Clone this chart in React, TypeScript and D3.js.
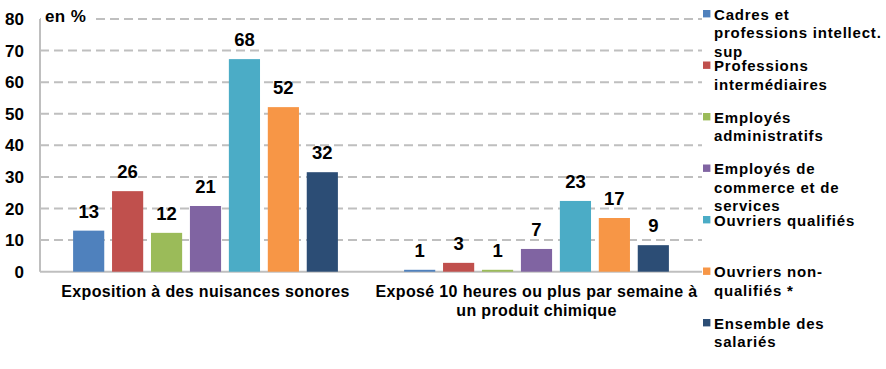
import React from 'react';
import * as d3 from 'd3';

const categories = [
  ['Exposition à des nuisances sonores'],
  ['Exposé 10 heures ou plus par semaine à', 'un produit chimique'],
];
const seriesNames = [
  ['Cadres et', 'professions intellect.', 'sup'],
  ['Professions', 'intermédiaires'],
  ['Employés', 'administratifs'],
  ['Employés de', 'commerce et de', 'services'],
  ['Ouvriers qualifiés'],
  ['Ouvriers non-', 'qualifiés *'],
  ['Ensemble des', 'salariés'],
];
const colors = ['#4F81BD', '#C0504D', '#9BBB59', '#8064A2', '#4BACC6', '#F79646', '#2C4D75'];
// bar heights, labels as printed
const noiseValues = [13, 25.5, 12.3, 20.8, 67.3, 52.1, 31.5];
const noiseLabels = ['13', '26', '12', '21', '68', '52', '32'];
const chemValues = [0.6, 2.8, 0.6, 7.2, 22.4, 17, 8.4];
const chemLabels = ['1', '3', '1', '7', '23', '17', '9'];
const yTicks = [0, 10, 20, 30, 40, 50, 60, 70, 80];

const font = '"Liberation Sans", Arial, sans-serif';

export default function App() {
  const width = 886;
  const height = 369;
  const left = 40;
  const right = 702;
  const top = 19;
  const bottom = 271.7;

  const y = d3.scaleLinear().domain([0, 80]).range([bottom, top]);
  const x0 = d3.scaleBand<number>().domain([0, 1]).range([left, right]);
  const x1 = d3.scaleBand<number>()
    .domain(d3.range(seriesNames.length))
    .range([0, x0.bandwidth()])
    .paddingInner(0.2)
    .paddingOuter(0.85);

  const groups = [
    { values: noiseValues, labels: noiseLabels },
    { values: chemValues, labels: chemLabels },
  ];

  return (
    <svg width={width} height={height} style={{ position: 'absolute', left: 0, top: 0 }} fontFamily={font}>
      {yTicks.filter(t => t > 0).map(t => (
        <line key={t} x1={left} x2={right} y1={y(t)} y2={y(t)} stroke="#BFBFBF" strokeWidth={2} strokeDasharray="9,5" />
      ))}
      <line x1={left} x2={left} y1={top} y2={bottom} stroke="#BFBFBF" strokeWidth={2} />
      <line x1={left} x2={right} y1={bottom} y2={bottom} stroke="#BFBFBF" strokeWidth={2} />
      <rect x={41} y={4} width={53} height={26} fill="#fff" />
      <text x={45} y={22} fontSize={17} fontWeight="bold" letterSpacing={0.4}>en %</text>
      {yTicks.map(t => (
        <text key={t} x={24} y={y(t)} dy="0.36em" textAnchor="end" fontSize={17} fontWeight="bold">{t}</text>
      ))}
      {groups.map((g, gi) => (
        <g key={gi} transform={`translate(${x0(gi)},0)`}>
          {g.values.map((v, i) => (
            <g key={i}>
              <rect x={x1(i)} y={y(v)} width={x1.bandwidth()} height={bottom - y(v)} fill={colors[i]} />
              <text x={(x1(i) as number) + x1.bandwidth() / 2} y={y(v) - 12.7} textAnchor="middle" fontSize={18.5} fontWeight="bold">{g.labels[i]}</text>
            </g>
          ))}
        </g>
      ))}
      {categories.map((lines, ci) => (
        <text key={ci} textAnchor="middle" fontSize={16} fontWeight="bold" letterSpacing={0.35}>
          {lines.map((l, li) => (
            <tspan key={li} x={(x0(ci) as number) + x0.bandwidth() / 2} y={297 + li * 19}>{l}</tspan>
          ))}
        </text>
      ))}
      {seriesNames.map((lines, i) => {
        const cy = 13.7 + i * 51.5;
        return (
          <g key={i}>
            <rect x={703} y={cy - 3.7} width={7.4} height={7.4} fill={colors[i]} />
            <text fontSize={15} fontWeight="bold" letterSpacing={0.8}>
              {lines.map((l, li) => (
                <tspan key={li} x={714} y={cy + 6 + li * 18.5}>{l}</tspan>
              ))}
            </text>
          </g>
        );
      })}
    </svg>
  );
}
